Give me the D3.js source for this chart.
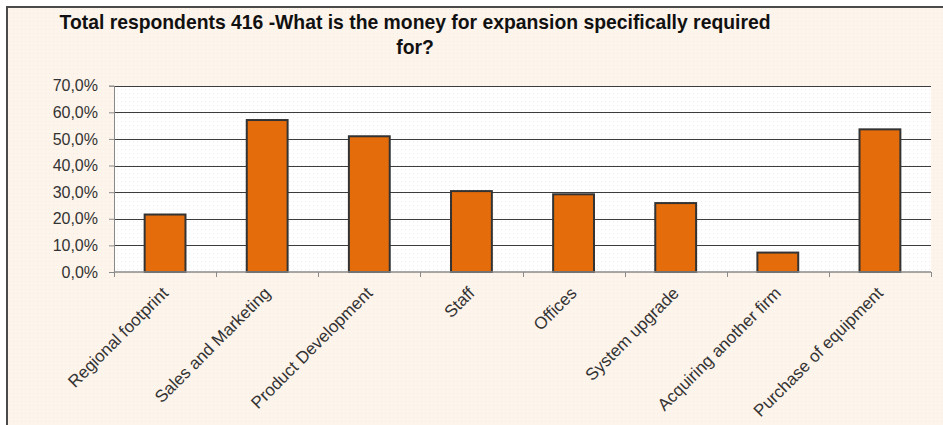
<!DOCTYPE html>
<html>
<head>
<meta charset="utf-8">
<script src="https://cdn.jsdelivr.net/npm/d3@7/dist/d3.min.js"></script>
<style>
  html, body { margin: 0; padding: 0; background: #ffffff; }
  svg { display: block; }
  text { font-family: "Liberation Sans", Arial, sans-serif; }
</style>
</head>
<body>
<svg id="chart" width="943" height="425"></svg>
<script>
// Survey answers: share of respondents naming each use of expansion money
const categories = [
  "Regional footprint",
  "Sales and Marketing",
  "Product Development",
  "Staff",
  "Offices",
  "System upgrade",
  "Acquiring another firm",
  "Purchase of equipment"
];
const shares = [21.6, 57.1, 51.0, 30.4, 29.2, 25.9, 7.3, 53.6];
const yTicks = [0, 10, 20, 30, 40, 50, 60, 70];
const titleLines = [
  "Total respondents 416 -What is the money for expansion specifically required",
  "for?"
];

const W = 943, H = 425;
const plot = { left: 114, right: 931, top: 85.7, bottom: 272 };

const svg = d3.select("#chart");
const defs = svg.append("defs");

// faint dotted textures for the chart area and the plot area
const pOuter = defs.append("pattern").attr("id", "dotsOuter")
  .attr("width", 4).attr("height", 4).attr("patternUnits", "userSpaceOnUse");
pOuter.append("rect").attr("width", 4).attr("height", 4).attr("fill", "#fdf4eb");
pOuter.append("rect").attr("x", 1).attr("y", 1).attr("width", 1).attr("height", 1).attr("fill", "#f6ebe1");

const pInner = defs.append("pattern").attr("id", "dotsInner")
  .attr("width", 4).attr("height", 4).attr("patternUnits", "userSpaceOnUse");
pInner.append("rect").attr("width", 4).attr("height", 4).attr("fill", "#ffffff");
pInner.append("rect").attr("x", 1).attr("y", 1).attr("width", 1).attr("height", 1).attr("fill", "#f1ece8");

// chart area with its frame (left and top edges visible)
svg.append("rect").attr("x", 7).attr("y", 7).attr("width", W - 7).attr("height", H - 7)
  .attr("fill", "url(#dotsOuter)");
svg.append("path")
  .attr("d", `M7,${H} L7,7 L${W},7`)
  .attr("fill", "none").attr("stroke", "#4a4a4a").attr("stroke-width", 2);

// title, set in a condensed bold face
const title = svg.append("g").attr("fill", "#111");
const t1 = title.append("text").attr("x", 415).attr("y", 29)
  .attr("text-anchor", "middle").attr("font-size", 21).attr("font-weight", "bold")
  .text(titleLines[0]);
const t2 = title.append("text").attr("x", 415).attr("y", 54)
  .attr("text-anchor", "middle").attr("font-size", 21).attr("font-weight", "bold")
  .text(titleLines[1]);
const squeeze = 711 / t1.node().getComputedTextLength();
[t1, t2].forEach(t => {
  t.attr("textLength", t.node().getComputedTextLength() * squeeze)
   .attr("lengthAdjust", "spacingAndGlyphs");
});

// scales
const x = d3.scaleBand().domain(categories)
  .range([plot.left, plot.right]).paddingInner(0.6).paddingOuter(0.3);
const y = d3.scaleLinear().domain([0, 70]).range([plot.bottom, plot.top]);

// plot area
svg.append("rect")
  .attr("x", plot.left).attr("y", plot.top)
  .attr("width", plot.right - plot.left).attr("height", plot.bottom - plot.top)
  .attr("fill", "url(#dotsInner)");

// horizontal gridlines
svg.append("g").selectAll("line").data(yTicks.filter(d => d > 0)).join("line")
  .attr("x1", plot.left).attr("x2", plot.right)
  .attr("y1", d => Math.round(y(d)) + 0.5).attr("y2", d => Math.round(y(d)) + 0.5)
  .attr("stroke", "#3d3d3d").attr("stroke-width", 1);

// y axis
const yAxis = svg.append("g").attr("transform", `translate(${plot.left},0)`)
  .call(d3.axisLeft(y).tickValues(yTicks).tickSize(5).tickPadding(11)
    .tickFormat(d => d3.format(".1f")(d).replace(".", ",") + "%"));
yAxis.select(".domain").attr("stroke", "#8a8a8a");
yAxis.selectAll(".tick line").attr("stroke", "#8a8a8a");
yAxis.selectAll(".tick text").attr("font-size", 16).attr("fill", "#333")
  .attr("font-family", "'Liberation Sans', Arial, sans-serif");

// bars
svg.append("g").selectAll("rect").data(categories).join("rect")
  .attr("x", d => x(d))
  .attr("y", (d, i) => y(shares[i]))
  .attr("width", x.bandwidth())
  .attr("height", (d, i) => y(0) - y(shares[i]))
  .attr("fill", "#e46c0a")
  .attr("stroke", "#333")
  .attr("stroke-width", 2);

// category axis: baseline plus ticks between categories
const xAxis = svg.append("g");
xAxis.append("line")
  .attr("x1", plot.left).attr("x2", plot.right)
  .attr("y1", plot.bottom).attr("y2", plot.bottom)
  .attr("stroke", "#8a8a8a").attr("stroke-width", 1.5);
const bounds = d3.range(categories.length + 1).map(i => plot.left + i * x.step());
xAxis.selectAll(".bound").data(bounds).join("line").attr("class", "bound")
  .attr("x1", d => Math.round(d) + 0.5).attr("x2", d => Math.round(d) + 0.5)
  .attr("y1", plot.bottom).attr("y2", plot.bottom + 5)
  .attr("stroke", "#8a8a8a");

// rotated category labels
xAxis.selectAll(".cat").data(categories).join("text").attr("class", "cat")
  .attr("transform", d => `translate(${x(d) + x.bandwidth() / 2},290) rotate(-45)`)
  .attr("text-anchor", "end")
  .attr("dy", "0.35em")
  .attr("font-size", 17)
  .attr("fill", "#333")
  .text(d => d);
</script>
</body>
</html>
